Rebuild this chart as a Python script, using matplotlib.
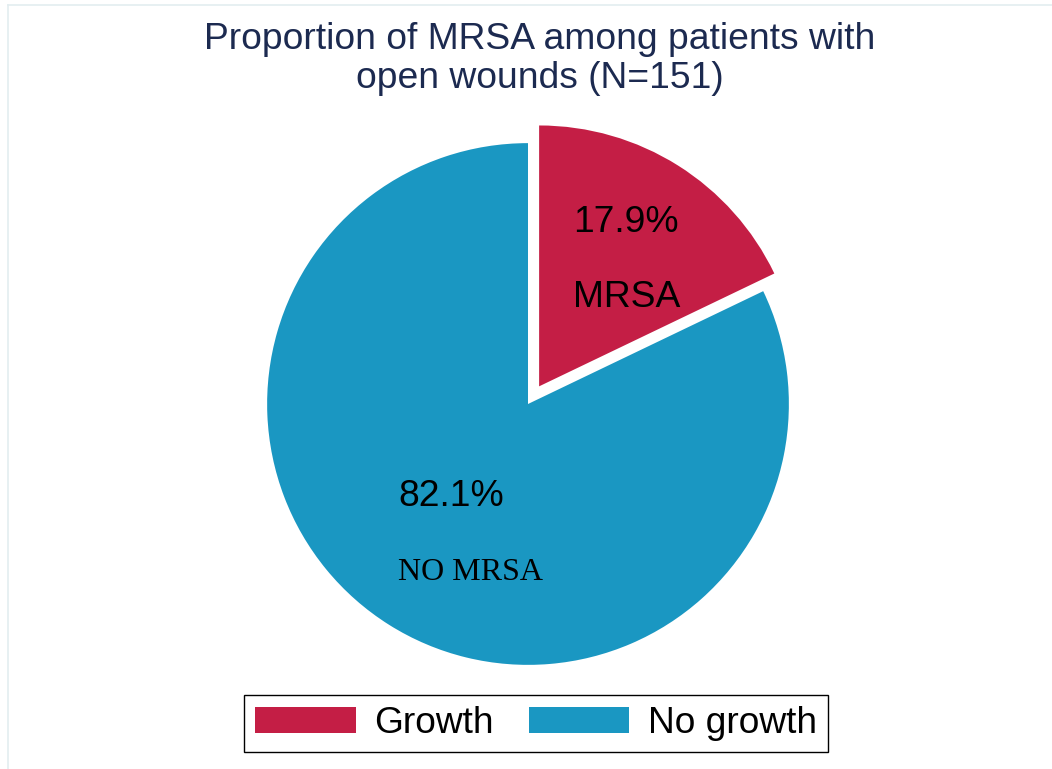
import matplotlib.pyplot as plt
from matplotlib.lines import Line2D

# MRSA counts among patients with open wounds (N=151)
categories = ['Growth', 'No growth']
counts = [27, 124]
inner_labels = ['MRSA', 'NO MRSA']
colors = ['#C41E45', '#1A97C2']

W, H = 1052, 769
fig = plt.figure(figsize=(W / 100, H / 100), dpi=100)
fig.patch.set_facecolor('white')

# faint graph-region border (left and top)
fig.add_artist(Line2D([8 / W, 8 / W], [0, 1 - 5 / H], color='#E3EDF0', lw=1.2))
fig.add_artist(Line2D([8 / W, 1], [1 - 5 / H, 1 - 5 / H], color='#E3EDF0', lw=1.2))

# title
fig.text(540 / W, 1 - 59 / H, 'Proportion of MRSA among patients with\nopen wounds (N=151)',
         ha='center', va='center', fontsize=26.8, color='#1C2A50',
         family='Liberation Sans', linespacing=1.12)

# pie axes: centre at (528, 404) px, radius ~261 px
ax = fig.add_axes([228 / W, 65 / H, 600 / W, 600 / H])
wedges, _ = ax.pie(counts, colors=colors, startangle=90, counterclock=False,
                   explode=[0.08, 0], radius=1.0,
                   wedgeprops=dict(linewidth=0))
ax.set_xlim(-1.15, 1.15)
ax.set_ylim(-1.15, 1.15)
ax.set_aspect('equal')
ax.axis('off')

total = sum(counts)
pcts = ['%.1f%%' % (100 * c / total) for c in counts]

# labels inside the slices
ax.text(0.172, 0.695, pcts[0], ha='left', va='center', fontsize=26.8,
        family='Liberation Sans', color='black')
ax.text(0.172, 0.41, inner_labels[0], ha='left', va='center', fontsize=26.8,
        family='Liberation Sans', color='black')
ax.text(-0.498, -0.356, pcts[1], ha='left', va='center', fontsize=26.8,
        family='Liberation Sans', color='black')
ax.text(-0.498, -0.644, inner_labels[1], ha='left', va='center', fontsize=23,
        family='Liberation Serif', color='black')

# legend
leg = fig.legend(wedges, categories, loc='center', ncol=2,
                 bbox_to_anchor=(536 / W, 1 - 723.5 / H),
                 prop={'family': 'Liberation Sans', 'size': 26.7},
                 handlelength=2.7, handleheight=0.7, handletextpad=0.5,
                 columnspacing=0.95, borderpad=0.3, borderaxespad=0,
                 fancybox=False, edgecolor='black', framealpha=1)
leg.get_frame().set_linewidth(1.0)

plt.savefig('out.png', dpi=100)
